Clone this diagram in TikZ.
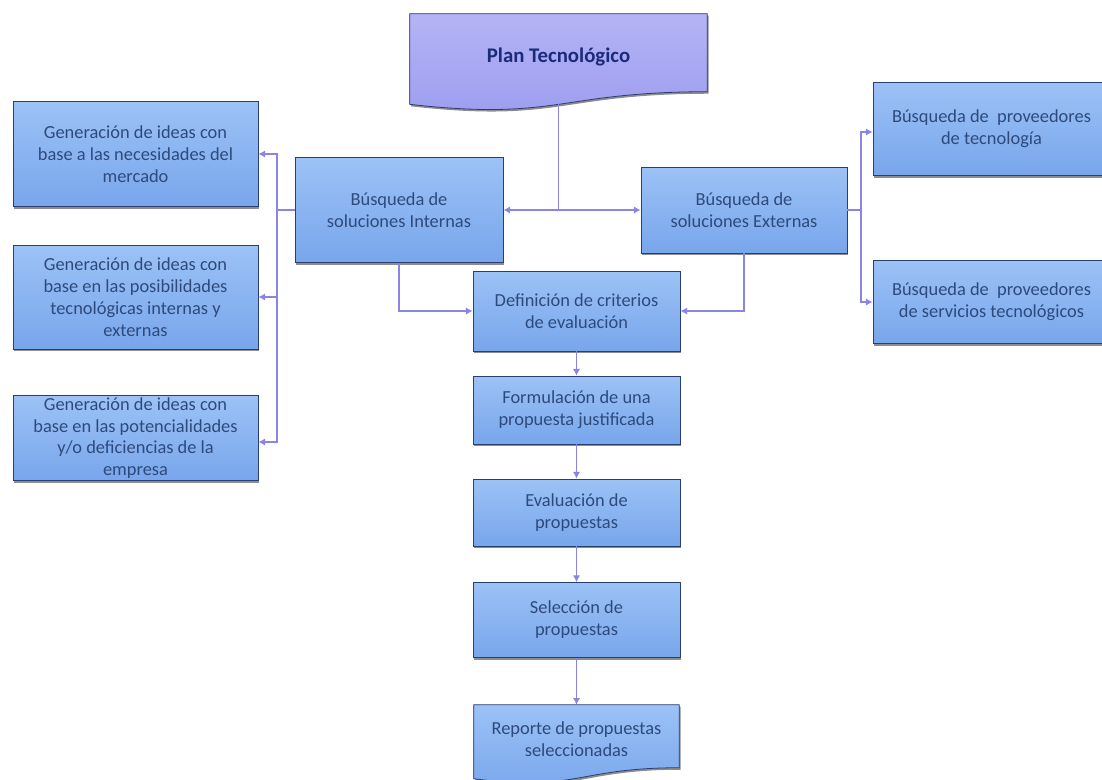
\documentclass[tikz,border=0pt]{standalone}
\usepackage{fontspec}
\setmainfont{Carlito}
\usetikzlibrary{arrows.meta,shadows,calc}

\definecolor{boxtop}{HTML}{9CC2F6}
\definecolor{boxbot}{HTML}{78A6EC}
\definecolor{boxline}{HTML}{2B3F6E}
\definecolor{boxtext}{HTML}{2E4A7C}
\definecolor{plantop}{HTML}{B4B4F6}
\definecolor{planbot}{HTML}{9C9CF0}
\definecolor{plantext}{HTML}{1C2A7A}
\definecolor{linkc}{HTML}{8A84E6}

\tikzset{
  sz/.style 2 args={minimum width={#1*0.75pt}, minimum height={#2*0.75pt}},
  boxshadow/.style={drop shadow={shadow xshift=1pt, shadow yshift=-1.5pt, opacity=0.45, fill=black}},
  boxfont/.style={font=\fontsize{13.8}{16.5}\selectfont},
  box/.style={rectangle, draw=boxline, line width=0.6pt, top color=boxtop,
    bottom color=boxbot, text=boxtext, align=center, inner sep=1pt,
    boxfont, boxshadow},
  doctext/.style={rectangle, align=center, inner sep=0pt},
  docshape/.style={draw=boxline, line width=0.6pt, boxshadow},
  link/.style={draw=linkc, line width=1.4pt},
  arr/.style={link, -{Latex[length=5pt,width=5.5pt]}}
}

\begin{document}
\begin{tikzpicture}[x=0.75pt, y=-0.75pt]
\useasboundingbox (0,0) rectangle (1102,779);

% title document shape
\node[doctext, sz={297}{86}] (plan) at (558.5,57) {};
\path[docshape, top color=plantop, bottom color=planbot]
  (plan.north west) -- (plan.north east) -- ($(plan.north east)+(0,78)$)
  .. controls ($(plan.north)+(0,78)$) and ($(plan.north)+(0,107.4)$) ..
  ($(plan.north west)+(0,90.6)$) -- cycle;
\node[doctext, sz={297}{86}, font=\fontsize{15.6}{18}\selectfont\bfseries, text=plantext] at (plan.center) {Plan Tecnológico};
\coordinate (pf) at ($(plan.north)+(0,90.5)$);

% second level
\node[box, sz={208}{105}] (int) at (399,210) {Búsqueda de\\soluciones Internas};
\node[box, sz={206}{86}]  (ext) at (744,210) {Búsqueda de\\soluciones Externas};

% internal idea generation
\node[box, sz={245}{105}] (g1) at (135.5,154) {Generación de ideas con\\base a las necesidades del\\mercado};
\node[box, sz={245}{104}] (g2) at (135.5,297) {Generación de ideas con\\base en las posibilidades\\tecnológicas internas y\\externas};
\node[box, sz={245}{85}, inner sep=0pt, font=\fontsize{13.8}{16.2}\selectfont] (g3) at (135.5,438) {Generación de ideas con\\base en las potencialidades\\y/o deficiencias de la\\empresa};

% external providers
\node[box, sz={237}{93}] (r1) at (991.5,129) {Búsqueda de~ proveedores\\de tecnología};
\node[box, sz={237}{83}] (r2) at (991.5,302) {Búsqueda de~ proveedores\\de servicios tecnológicos};

% evaluation chain
\node[box, sz={207}{80}] (def)  at (576.5,311)   {Definición de criterios\\de evaluación};
\node[box, sz={207}{68}] (form) at (576.5,410)   {Formulación de una\\propuesta justificada};
\node[box, sz={207}{67}] (eval) at (576.5,512.5) {Evaluación de\\propuestas};
\node[box, sz={207}{75}] (sel)  at (576.5,620)   {Selección de\\propuestas};

% report document shape
\node[doctext, sz={205}{66}] (rep) at (576.5,738) {};
\path[docshape, top color=boxtop, bottom color=boxbot]
  (rep.north west) -- (rep.north east) -- ($(rep.north east)+(0,63)$)
  .. controls ($(rep.north)+(0,63)$) and ($(rep.north)+(0,87.5)$) ..
  ($(rep.north west)+(0,74)$) -- cycle;
\node[doctext, sz={205}{66}, text=boxtext, boxfont] at ($(rep.center)+(0,1)$) {Reporte de propuestas\\seleccionadas};

% connectors
\draw[link] (pf) -- (pf |- int.east) coordinate (j);
\draw[arr] (j) -- (int.east);
\draw[arr] (j) -- (ext.west);

\draw[link] (int.west) -- ++(-18,0) coordinate (lb);
\draw[arr] (lb) |- (g1.east);
\draw[arr] (lb) |- (g2.east);
\draw[arr] (lb) |- ($(g3.east)+(0,4)$);

\draw[link] (ext.east) -- ++(14,0) coordinate (rb);
\draw[arr] (rb) |- ($(r1.west)+(0,3)$);
\draw[arr] (rb) |- (r2.west);

\draw[arr] (int.south) |- (def.west);
\draw[arr] (ext.south) |- (def.east);

\draw[arr] (def.south) -- (form.north);
\draw[arr] (form.south) -- (eval.north);
\draw[arr] (eval.south) -- (sel.north);
\draw[arr] (sel.south) -- (rep.north);
\end{tikzpicture}
\end{document}
